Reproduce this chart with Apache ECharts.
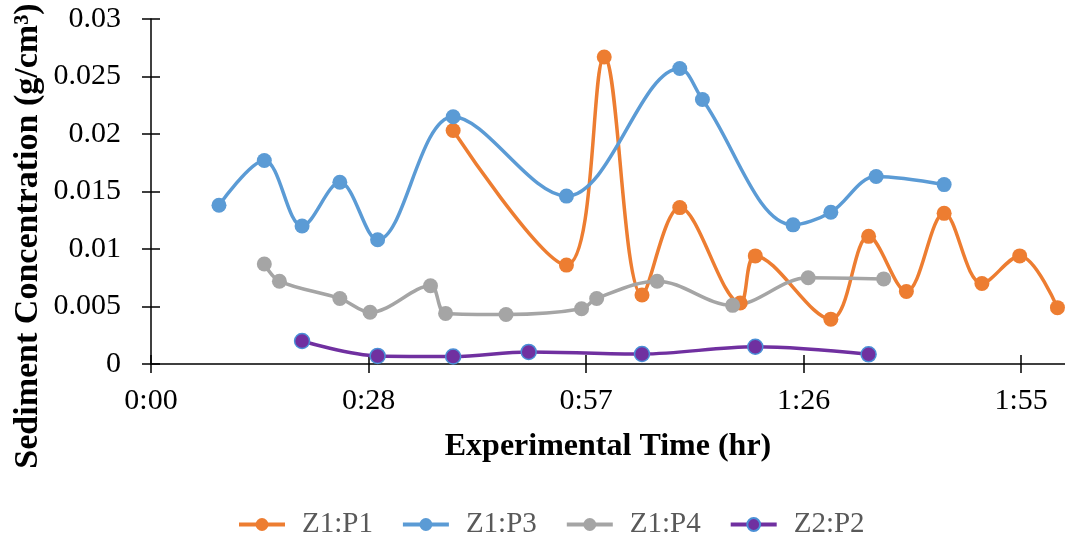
<!DOCTYPE html>
<html>
<head>
<meta charset="utf-8">
<script src="https://cdn.jsdelivr.net/npm/echarts@6/dist/echarts.min.js"></script>
<style>
  html, body { margin: 0; padding: 0; background: #fff; }
  #chart { width: 1065px; height: 540px; }
</style>
</head>
<body>
<div id="chart"></div>
<script>
// time in minutes, concentration in g/cm3
const p1Time = [40, 55, 60, 65, 70, 78, 80, 90, 95, 100, 105, 110, 115, 120]
const p1Conc = [0.0203, 0.0086, 0.0267, 0.0060, 0.0136, 0.0053, 0.0094, 0.0039, 0.0111, 0.0063, 0.0131, 0.0070, 0.0094, 0.0049]

const p3Time = [9, 15, 20, 25, 30, 40, 55, 70, 73, 85, 90, 96, 105]
const p3Conc = [0.0138, 0.0177, 0.0120, 0.0158, 0.0108, 0.0215, 0.0146, 0.0257, 0.0230, 0.0121, 0.0132, 0.0163, 0.0156]

const p4Time = [15, 17, 25, 29, 37, 39, 47, 57, 59, 67, 77, 87, 97]
const p4Conc = [0.0087, 0.0072, 0.0057, 0.0045, 0.0068, 0.0044, 0.0043, 0.0048, 0.0057, 0.0072, 0.0051, 0.0075, 0.0074]

const z2p2Time = [20, 30, 40, 50, 65, 80, 95]
const z2p2Conc = [0.0020, 0.0007, 0.00065, 0.00105, 0.00087, 0.0015, 0.00084]

// excel time axis, major unit 0.02 day
const xTicks = [0, 28.8, 57.6, 86.4, 115.2]

const serif = '"Liberation Serif", "Times New Roman", serif'

function pairs(t, v) {
  return t.map((x, i) => [x, v[i]])
}

function fmtTime(m) {
  const total = Math.floor(m + 1e-6)
  const h = Math.floor(total / 60)
  const mm = total % 60
  return h + ':' + (mm < 10 ? '0' : '') + mm
}

function lineSeries(name, data, color, border) {
  return {
    name: name,
    type: 'line',
    data: data,
    smooth: 0.35,
    symbol: 'circle',
    symbolSize: 15,
    lineStyle: { color: color, width: 3.5 },
    itemStyle: { color: color, borderColor: border || color, borderWidth: border ? 1.5 : 0 }
  }
}

const chart = echarts.init(document.getElementById('chart'))

chart.setOption({
  animation: false,
  backgroundColor: '#fff',
  grid: { left: 151, right: 0, top: 19, bottom: 176 },
  legend: {
    left: 232,
    top: 505,
    itemWidth: 46,
    itemHeight: 16,
    itemGap: 28,
    lineStyle: { width: 4 },
    textStyle: { fontFamily: serif, fontSize: 29, color: '#595959', padding: [0, 0, 0, 12] },
    data: ['Z1:P1', 'Z1:P3', 'Z1:P4', 'Z2:P2']
  },
  graphic: [{
    type: 'text',
    x: 28,
    y: 236,
    rotation: Math.PI / 2,
    style: {
      text: 'Sediment Concentration (g/cm³)',
      fontFamily: serif,
      fontSize: 34,
      fontWeight: 'bold',
      fill: '#000',
      align: 'center',
      verticalAlign: 'middle'
    }
  }],
  xAxis: [{
    type: 'value',
    min: 0,
    max: 121,
    name: 'Experimental Time (hr)',
    nameLocation: 'middle',
    nameGap: 67,
    nameTextStyle: { fontFamily: serif, fontSize: 32, fontWeight: 'bold', color: '#000' },
    splitLine: { show: false },
    axisLine: { lineStyle: { color: '#000', width: 1.5 } },
    axisTick: { length: 9, customValues: xTicks, lineStyle: { color: '#000', width: 1.5 } },
    axisLabel: {
      customValues: xTicks,
      formatter: fmtTime,
      margin: 22,
      fontFamily: serif,
      fontSize: 30,
      color: '#000'
    }
  }, {
    type: 'value',
    min: 0,
    max: 121,
    position: 'bottom',
    splitLine: { show: false },
    axisLine: { show: false },
    axisTick: { inside: true, length: 9, customValues: xTicks, lineStyle: { color: '#000', width: 1.5 } },
    axisLabel: { show: false }
  }],
  yAxis: [{
    type: 'value',
    min: 0,
    max: 0.03,
    interval: 0.005,
    splitLine: { show: false },
    axisLine: { show: true, lineStyle: { color: '#000', width: 1.5 } },
    axisTick: { show: true, length: 9, lineStyle: { color: '#000', width: 1.5 } },
    axisLabel: { margin: 30, fontFamily: serif, fontSize: 30, color: '#000' }
  }, {
    type: 'value',
    min: 0,
    max: 0.03,
    interval: 0.005,
    position: 'left',
    splitLine: { show: false },
    axisLine: { show: false },
    axisTick: { show: true, inside: true, length: 9, lineStyle: { color: '#000', width: 1.5 } },
    axisLabel: { show: false }
  }],
  series: [
    lineSeries('Z1:P1', pairs(p1Time, p1Conc), '#ED7D31'),
    lineSeries('Z1:P3', pairs(p3Time, p3Conc), '#5B9BD5'),
    lineSeries('Z1:P4', pairs(p4Time, p4Conc), '#A5A5A5'),
    lineSeries('Z2:P2', pairs(z2p2Time, z2p2Conc), '#7030A0', '#4A8FD6')
  ]
})
</script>
</body>
</html>
